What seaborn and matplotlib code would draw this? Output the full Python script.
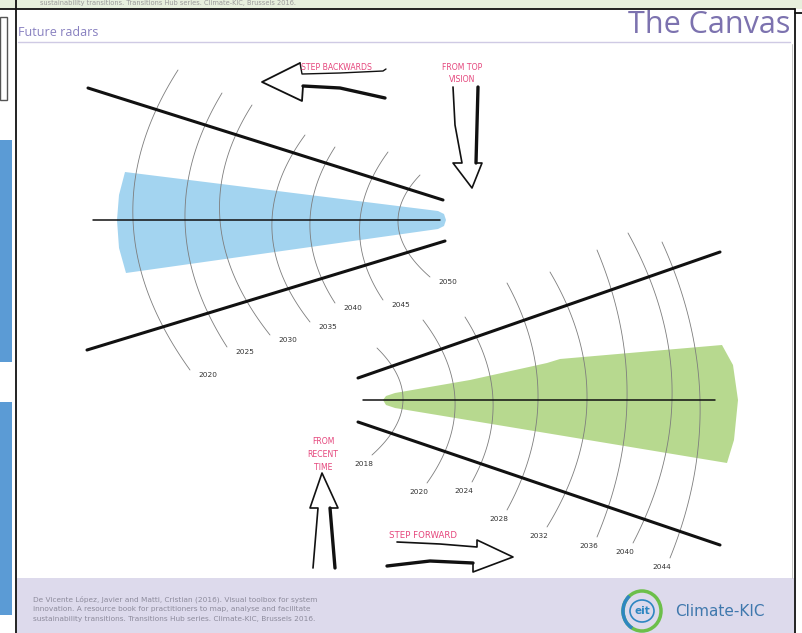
import numpy as np
import seaborn as sns
import matplotlib.pyplot as plt
from matplotlib.patches import Rectangle, Ellipse, Arc

# year marks written on the two radars
upper_years = ["2020", "2025", "2030", "2035", "2040", "2045", "2050"]
lower_years = ["2018", "2020", "2024", "2028", "2032", "2036", "2040", "2044"]

# handwritten notes and page texts
note_back = "STEP BACKWARDS"
note_top = ["FROM TOP", "VISION"]
note_recent = ["FROM", "RECENT", "TIME"]
note_fwd = "STEP FORWARD"
title = "Future radars"
brand = "The Canvas"
ref_lines = ["De Vicente López, Javier and Matti, Cristian (2016). Visual toolbox for system",
             "innovation. A resource book for practitioners to map, analyse and facilitate",
             "sustainability transitions. Transitions Hub series. Climate-KIC, Brussels 2016."]

# sketch geometry in page pixels (y goes down)
up_tops = [(178, 70), (222, 93), (252, 105), (305, 135), (335, 147), (388, 152), (420, 175)]
up_cross = [133, 185, 220, 272, 310, 360, 398]
up_ends = [(190, 370), (227, 347), (270, 335), (310, 322), (335, 303), (383, 300), (430, 277)]
lo_tops = [(377, 348), (423, 320), (465, 317), (507, 283), (550, 272), (597, 250), (628, 233), (662, 242)]
lo_cross = [403, 455, 493, 538, 587, 627, 672, 700]
lo_ends = [(372, 455), (427, 483), (472, 482), (507, 510), (547, 527), (597, 537), (633, 543), (670, 558)]

BLUE_FAN = "#a3d4f0"
GREEN_FAN = "#b7d98f"
PINK = "#e5467c"
PURPLE = "#6e63a6"

sns.set_theme(style="white")

fig = plt.figure(figsize=(8.02, 6.33), dpi=100)
ax = fig.add_axes([0, 0, 1, 1])


def line(xs, ys, lw=2.2, color="#111111"):
    sns.lineplot(x=np.asarray(xs, float), y=np.asarray(ys, float), sort=False, estimator=None,
                 color=color, linewidth=lw, ax=ax, solid_capstyle="round")


def arc_curve(top, xc, yc, end, n=60):
    coef = np.polyfit([top[1], yc, end[1]], [top[0], xc, end[0]], 2)
    yy = np.linspace(top[1], end[1], n)
    return np.polyval(coef, yy), yy


# page frame: top strip, left strip, footer
ax.add_patch(Rectangle((0, 0), 802, 9, color="#e7f0dd", lw=0))
ax.text(40, 3.5, ref_lines[2], fontsize=4.8, color="#9a9a9a", va="center")
ax.add_patch(Arc((650, -6), 34, 28, theta1=180, theta2=360, color="#6cbf4a", lw=2))
ax.add_patch(Rectangle((0, 17), 7, 83, fill=False, ec="#555555", lw=1))
ax.add_patch(Rectangle((0, 140), 12, 222, color="#5b9bd5", lw=0))
ax.add_patch(Rectangle((0, 402), 12, 213, color="#5b9bd5", lw=0))
ax.add_patch(Rectangle((17, 578), 777, 55, color="#dddaec", lw=0))
line([0, 795], [9, 9], lw=1.3)
line([795, 802], [13, 13], lw=1.3)
line([16, 16], [0, 633], lw=1.3)
line([795, 795], [9, 633], lw=1.3)
line([792, 792], [44, 578], lw=0.6, color="#bbbbbb")

# header
ax.text(18, 32, title, fontsize=9, color="#8880c0", va="center", family="Open Sans")
ax.text(790, 25, brand, fontsize=22, color=PURPLE, alpha=0.9, ha="right", va="center", family="Open Sans")
line([18, 790], [42, 42], lw=1, color="#cfcae4")

# footer
for i, t in enumerate(ref_lines):
    ax.text(33, 599 + 10 * i, t, fontsize=5.3, color="#8d8b9c", va="center")
ax.add_patch(Ellipse((642, 611), 38, 40, fill=False, ec="#6cbf4a", lw=2.5))
ax.add_patch(Arc((642, 611), 38, 40, theta1=120, theta2=230, color="#2e86c1", lw=2.5))
ax.add_patch(Ellipse((642, 611), 24, 22, fill=False, ec="#2e86c1", lw=1.2))
ax.text(642, 611, "eit", fontsize=7.5, color="#2e86c1", ha="center", va="center", weight="bold")
ax.text(675, 611, "Climate-KIC", fontsize=11, color="#3f78ad", va="center")

# upper radar (looking back from the vision)
ax.fill([125, 119, 117, 119, 126, 438, 444, 446, 444, 438],
        [172, 195, 220, 248, 273, 229, 226, 220, 214, 211], color=BLUE_FAN, lw=0)
for top, xc, end, yr in zip(up_tops, up_cross, up_ends, upper_years):
    xx, yy = arc_curve(top, xc, 220, end)
    line(xx, yy, lw=0.6, color="#7d7d7d")
    ax.text(end[0] + 8, end[1] + 5, yr, fontsize=5.3, color="#333333", va="center")
line([88, 443], [88, 200])
line([87, 445], [350, 241])
line([93, 440], [220, 220], lw=1.1)

# lower radar (stepping forward from now)
ax.fill([386, 383, 386, 395, 727, 734, 738, 733, 722, 560, 547, 470, 395],
        [396, 400, 405, 408, 463, 440, 400, 365, 345, 359, 363, 380, 393], color=GREEN_FAN, lw=0)
for top, xc, end, yr in zip(lo_tops, lo_cross, lo_ends, lower_years):
    xx, yy = arc_curve(top, xc, 400, end)
    line(xx, yy, lw=0.6, color="#7d7d7d")
    ax.text(end[0] - 8, end[1] + 9, yr, fontsize=5.3, color="#333333", ha="center", va="center")
line([358, 720], [378, 252])
line([358, 720], [422, 545])
line([363, 715], [400, 400], lw=1.1)

# step backwards arrow
line([300, 262, 302, 303], [63, 82, 101, 86], lw=1.3)
line([300, 302, 340, 383, 386], [63, 74, 73, 71, 69], lw=1)
line([303, 340, 385], [86, 88, 98], lw=2.4)
ax.text(301, 68, note_back, fontsize=5.6, color=PINK, va="center")

# from top vision arrow
line([453, 455, 462, 453, 472, 482, 476], [87, 125, 163, 163, 188, 163, 163], lw=1.2)
line([478, 476], [87, 163], lw=2.4)
for i, t in enumerate(note_top):
    ax.text(462, 68 + 11 * i, t, fontsize=5.6, color=PINK, ha="center", va="center")

# from recent time arrow
line([313, 318, 310, 322, 338, 330], [568, 508, 508, 473, 508, 508], lw=1.2)
line([330, 335], [508, 568], lw=2.4)
for i, t in enumerate(note_recent):
    ax.text(323, 442 + 12.5 * i, t, fontsize=5.6, color=PINK, ha="center", va="center")

# step forward arrow
line([397, 440, 477, 477, 513, 473, 473], [542, 544, 547, 540, 557, 572, 563], lw=1.2)
line([473, 430, 387], [563, 561, 566], lw=2.4)
ax.text(389, 536, note_fwd, fontsize=6.2, color=PINK, va="center")

ax.set_xlim(0, 802)
ax.set_ylim(633, 0)
ax.axis("off")
fig.savefig("out.png", dpi=100)
